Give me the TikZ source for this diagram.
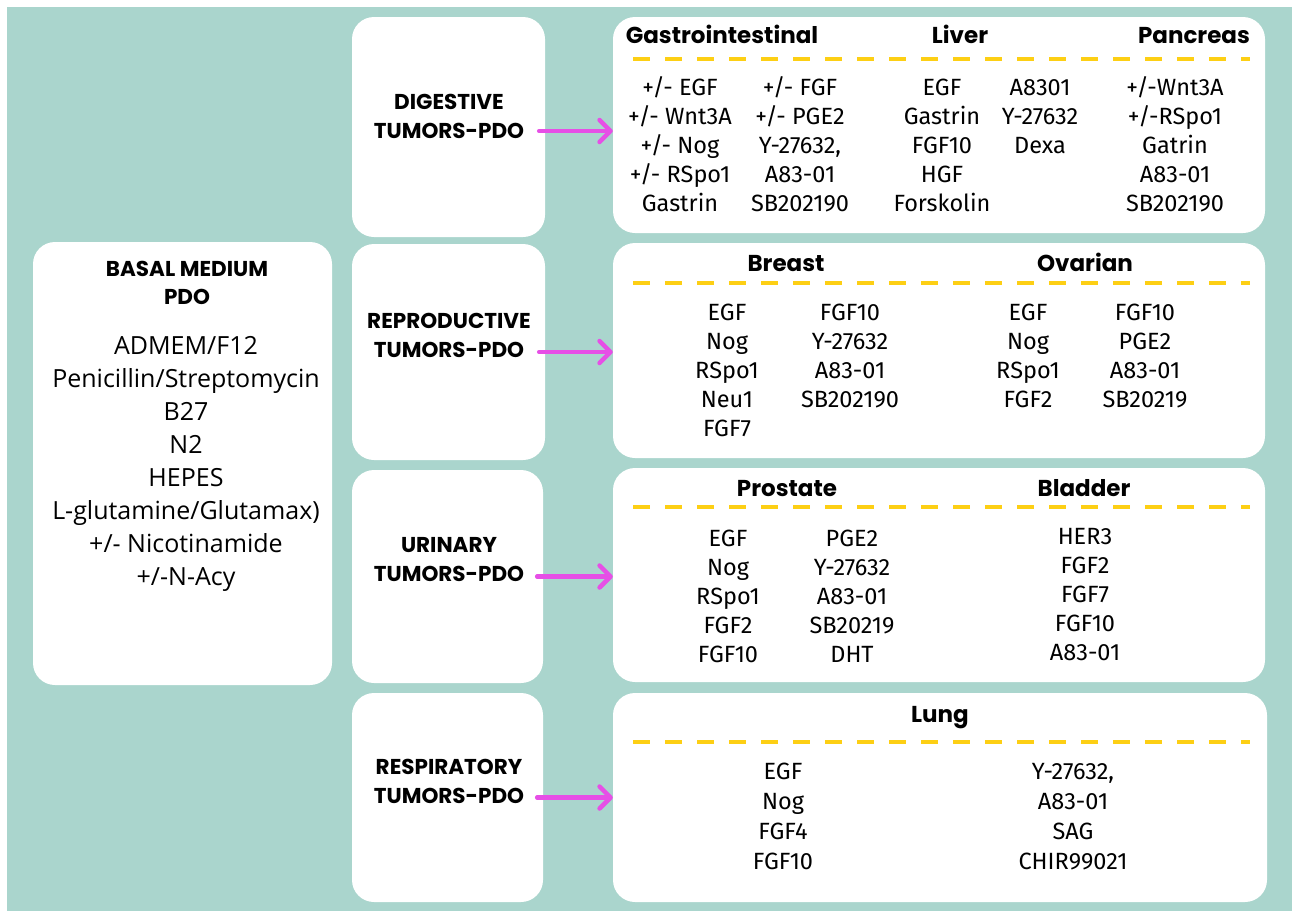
\documentclass[tikz,border=0pt]{standalone}
\usepackage{fontspec}
\setmainfont{Open Sans}
\newfontfamily\headfont{Poppins}
\newfontfamily\cellfont{Fira Sans}
\usetikzlibrary{arrows.meta}
\definecolor{bgteal}{HTML}{AAD5CD}
\definecolor{arrowpink}{HTML}{E64FE6}
\definecolor{dashyellow}{HTML}{FDCF14}
\tikzset{
 panel/.style={fill=white,rounded corners=22pt,inner sep=0pt},
 headtxt/.style={font=\headfont\bfseries\fontsize{23}{28}\selectfont,text height=16pt,text depth=0pt,inner sep=0pt},
 cattxt/.style={anchor=north,align=center,inner sep=0pt,font=\headfont\bfseries\fontsize{21.5}{28.5}\selectfont},
 basetxt/.style={anchor=north,align=center,inner sep=0pt,font=\fontsize{25}{33}\selectfont},
 cell/.style={anchor=north,align=center,inner sep=0pt,font=\cellfont\fontsize{23.5}{29}\selectfont},
 sep/.style={dashyellow,line width=4pt,dash pattern=on 17pt off 15pt},
 feed/.style={arrowpink,line width=4.5pt,line cap=round,-{Straight Barb[length=11pt,width=22pt,round]}}
}
\begin{document}
\begin{tikzpicture}[x=1pt,y=-1pt]
 \useasboundingbox (0,0) rectangle (1292,911);
 \fill[white] (0,0) rectangle (1292,911);
 \fill[bgteal] (7,7) rectangle (1292,911);

 \node[panel,minimum width=299pt,minimum height=443pt] (basal) at (182.5,463.5) {};
 \node[panel,minimum width=193pt,minimum height=220pt] (digcat) at (448.5,127) {};
 \node[panel,minimum width=193pt,minimum height=216pt] (repcat) at (448.5,352) {};
 \node[panel,minimum width=191pt,minimum height=213pt] (urincat) at (447.5,576.5) {};
 \node[panel,minimum width=191pt,minimum height=209pt] (respcat) at (447.5,797.5) {};
 \node[panel,minimum width=652pt,minimum height=216pt] (digbox) at (939,125) {};
 \node[panel,minimum width=652pt,minimum height=215pt] (repbox) at (939,350.5) {};
 \node[panel,minimum width=652pt,minimum height=214pt] (urinbox) at (939,575) {};
 \node[panel,minimum width=654pt,minimum height=209pt] (lungbox) at (940,797.5) {};

 \node[cattxt] (basalhead) at (187,256) {\strut BASAL MEDIUM\\PDO};
 \node[basetxt] (basallist) at (186,330.8) {\strut ADMEM/F12\\Penicillin/Streptomycin\\B27\\N2\\HEPES\\L-glutamine/Glutamax)\\+/- Nicotinamide\\+/-N-Acy};

 \node[cattxt] (diglabel) at (449,89.5) {\strut DIGESTIVE\\TUMORS-PDO};
 \node[cattxt] (replabel) at (449,308.5) {\strut REPRODUCTIVE\\TUMORS-PDO};
 \node[cattxt] (urinlabel) at (449,532.5) {\strut URINARY\\TUMORS-PDO};
 \node[cattxt] (resplabel) at (449,754.5) {\strut RESPIRATORY\\TUMORS-PDO};

 \draw[feed] ([xshift=-6pt,yshift=-4pt]digcat.east) -- ([yshift=-4pt]digcat.east -| digbox.west);
 \draw[feed] ([xshift=-6pt]repcat.east) -- (repcat.east -| repbox.west);
 \draw[feed] ([xshift=-6pt]urincat.east) -- (urincat.east -| urinbox.west);
 \draw[feed] ([xshift=-6pt]respcat.east) -- (respcat.east -| lungbox.west);

 \node[headtxt] (gastro) at (722,35) {Gastrointestinal};
 \node[headtxt] (liver) at (960,35) {Liver};
 \node[headtxt] (pancreas) at (1194,35) {Pancreas};
 \coordinate (digsepL) at (633,59);
 \coordinate (digsepR) at (1250,59);
 \draw[sep] (digsepL) -- (digsepR);
 \node[cell] (gastroA) at (680,75) {\strut +/- EGF\\+/- Wnt3A\\+/- Nog\\+/- RSpo1\\Gastrin};
 \node[cell] (gastroB) at (800,75) {\strut +/- FGF\\+/- PGE2\\Y-27632,\\A83-01\\SB202190};
 \node[cell] (liverA) at (942,75) {\strut EGF\\Gastrin\\FGF10\\HGF\\Forskolin};
 \node[cell] (liverB) at (1040,75) {\strut A8301\\Y-27632\\Dexa};
 \node[cell] (pancA) at (1175,75) {\strut +/-Wnt3A\\+/-RSpo1\\Gatrin\\A83-01\\SB202190};

 \node[headtxt] (breast) at (786,263) {Breast};
 \node[headtxt] (ovarian) at (1085,263) {Ovarian};
 \coordinate (repsepL) at (633,283);
 \coordinate (repsepR) at (1250,283);
 \draw[sep] (repsepL) -- (repsepR);
 \node[cell] (breastA) at (727,300) {\strut EGF\\Nog\\RSpo1\\Neu1\\FGF7};
 \node[cell] (breastB) at (850,300) {\strut FGF10\\Y-27632\\A83-01\\SB202190};
 \node[cell] (ovarA) at (1028,300) {\strut EGF\\Nog\\RSpo1\\FGF2};
 \node[cell] (ovarB) at (1145,300) {\strut FGF10\\PGE2\\A83-01\\SB20219};

 \node[headtxt] (prostate) at (787,488) {Prostate};
 \node[headtxt] (bladder) at (1084,488) {Bladder};
 \coordinate (urinsepL) at (633,507);
 \coordinate (urinsepR) at (1250,507);
 \draw[sep] (urinsepL) -- (urinsepR);
 \node[cell] (prosA) at (728,526) {\strut EGF\\Nog\\RSpo1\\FGF2\\FGF10};
 \node[cell] (prosB) at (852,526) {\strut PGE2\\Y-27632\\A83-01\\SB20219\\DHT};
 \node[cell] (bladA) at (1085,523.5) {\strut HER3\\FGF2\\FGF7\\FGF10\\A83-01};

 \node[headtxt] (lung) at (940,714) {Lung};
 \coordinate (lungsepL) at (633,742);
 \coordinate (lungsepR) at (1250,742);
 \draw[sep] (lungsepL) -- (lungsepR);
 \node[cell,font=\cellfont\fontsize{23.5}{30}\selectfont] (lungA) at (783,758.5) {\strut EGF\\Nog\\FGF4\\FGF10};
 \node[cell,font=\cellfont\fontsize{23.5}{30}\selectfont] (lungB) at (1073,758.5) {\strut Y-27632,\\A83-01\\SAG\\CHIR99021};
\end{tikzpicture}
\end{document}
